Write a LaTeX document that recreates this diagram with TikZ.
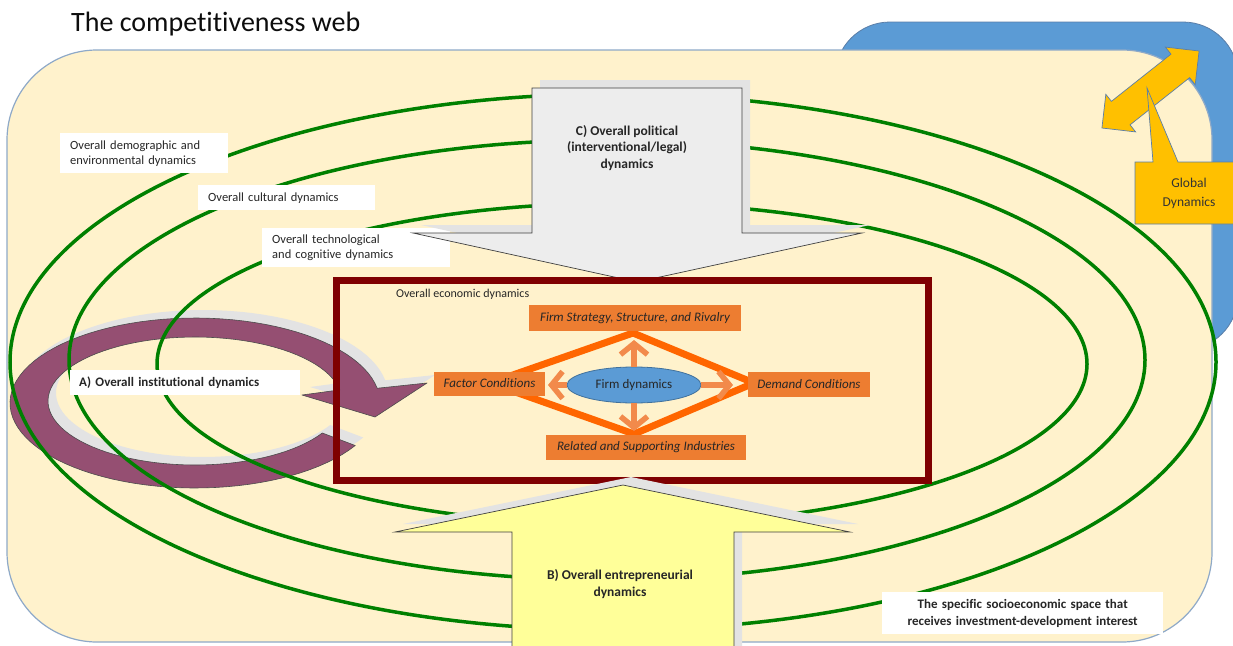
\documentclass[tikz,border=0pt]{standalone}
\usepackage{fontspec}
\setmainfont{Carlito}[Ligatures=NoCommon]
\usetikzlibrary{arrows.meta,shapes.geometric}
\definecolor{bgcream}{HTML}{FFF2CC}
\definecolor{framegray}{HTML}{8EA9C8}
\definecolor{globalblue}{HTML}{5B9BD5}
\definecolor{globalblueline}{HTML}{5A7EA8}
\definecolor{ringgreen}{HTML}{008000}
\definecolor{boxred}{HTML}{7F0000}
\definecolor{instpurple}{HTML}{954F72}
\definecolor{shadowgray}{HTML}{E3E3E3}
\definecolor{polgray}{HTML}{EDEDED}
\definecolor{entyellow}{HTML}{FFFF99}
\definecolor{goldfill}{HTML}{FFC000}
\definecolor{porterorange}{HTML}{ED7D31}
\definecolor{diamondorange}{HTML}{FF6600}
\definecolor{linkorange}{HTML}{F28A4B}
\definecolor{firmblue}{HTML}{5B9BD5}
\definecolor{firmblueline}{HTML}{41719C}
\definecolor{inkdark}{HTML}{262626}
\begin{document}
\begin{tikzpicture}[x=1pt,y=-1pt,
  labelbox/.style={fill=white, inner xsep=10pt, inner ysep=0pt, anchor=north west,
    align=left, text=inkdark, font=\fontsize{12.5}{15}\selectfont},
  boldlabel/.style={labelbox, font=\fontsize{13}{17}\selectfont\bfseries},
  ring/.style={draw=ringgreen, line width=3.5pt},
  porterbox/.style={fill=porterorange, inner sep=0pt, text=inkdark,
    font=\fontsize{13}{15}\selectfont\itshape},
  linkarrow/.style={draw=linkorange, line width=5.5pt,
    -{Straight Barb[length=11pt,width=27pt]}},
  bigarrow/.style={draw=black!75, line width=0.7pt},
  bigtext/.style={font=\fontsize{13.5}{16.5}\selectfont\bfseries, text=inkdark, align=center},
]
\useasboundingbox (0,0) rectangle (1233,645);
\clip (0,0) rectangle (1233,645);
\fill[white] (0,0) rectangle (1233,645);

% global environment behind the space
\draw[fill=globalblue, draw=globalblueline, line width=0.8pt, rounded corners=55pt]
  (835,22) rectangle (1238,350);
% the specific socioeconomic space
\draw[fill=bgcream, draw=framegray, line width=1.2pt, rounded corners=90pt]
  (7,50) rectangle (1212,642);

% A) institutional ring: shadow, then the ring itself
\begin{scope}[shift={(8,-8)}]
  \fill[shadowgray]
    plot[domain=30:350,samples=90,variable=\t] ({195+185*cos(\t)},{403+85*sin(\t)})
    -- (427,383) -- (375,417) -- (302,395)
    -- plot[domain=350:30,samples=90,variable=\t] ({195+147*cos(\t)},{401+64*sin(\t)})
    -- cycle;
\end{scope}
\draw[fill=instpurple, draw=black!70, line width=0.6pt, line join=round]
  plot[domain=30:350,samples=90,variable=\t] ({195+185*cos(\t)},{403+85*sin(\t)})
  -- (427,383) -- (375,417) -- (302,395)
  -- plot[domain=350:30,samples=90,variable=\t] ({195+147*cos(\t)},{401+64*sin(\t)})
  -- cycle;

% concentric dynamics
\draw[ring] (613,362) ellipse [x radius=603pt, y radius=268pt];
\draw[ring] (607,360) ellipse [x radius=538pt, y radius=220pt];
\draw[ring] (622,364) ellipse [x radius=465pt, y radius=161pt];

% layer labels
\node[labelbox, text width=148pt, minimum height=40pt] (demo) at (60,133)
  {Overall demographic and\\environmental dynamics};
\node[labelbox, text width=157pt, minimum height=25pt] (cult) at (198,185)
  {Overall cultural dynamics};
\node[labelbox, text width=168pt, minimum height=39pt] (tech) at (262,228)
  {Overall technological\\and cognitive dynamics};
\node[boldlabel, inner xsep=9pt, text width=212pt, minimum height=25pt] (inst) at (70,370)
  {A) Overall institutional dynamics};

% C) political arrow
\begin{scope}[shift={(8,-8)}]
  \fill[shadowgray] (532,88) -- (742,88) -- (742,233) -- (862,233) -- (637,282)
    -- (413,233) -- (532,233) -- cycle;
\end{scope}
\draw[bigarrow, fill=polgray] (532,88) -- (742,88) -- (742,233) -- (862,233) -- (637,282)
  -- (413,233) -- (532,233) -- cycle;
\node[bigtext] (pol) at (627,148) {C) Overall political\\(interventional/legal)\\dynamics};

% economic dynamics frame
\draw[draw=boxred, line width=7pt] (336.5,280.5) rectangle (928.5,480.5);
\node[anchor=west, inner sep=0pt, text=inkdark, font=\fontsize{12}{14}\selectfont]
  (econ) at (396,294) {Overall economic dynamics};

% Porter diamond
\coordinate (dtop) at (633,333);
\coordinate (dright) at (754,383);
\coordinate (dbottom) at (634,434);
\coordinate (dleft) at (490,383);
\draw[draw=diamondorange, line width=7pt, line join=miter]
  (dtop) -- (dright) -- (dbottom) -- (dleft) -- cycle;

\node[porterbox, minimum width=212pt, minimum height=26pt] (strat) at (635,318)
  {Firm Strategy, Structure, and Rivalry};
\node[porterbox, minimum width=111pt, minimum height=24pt] (factor) at (489.5,383.5)
  {Factor Conditions};
\node[porterbox, minimum width=122pt, minimum height=25pt] (demand) at (809,384.5)
  {Demand Conditions};
\node[porterbox, minimum width=200pt, minimum height=25pt] (related) at (646,447.5)
  {Related and Supporting Industries};

\node[ellipse, fill=firmblue, draw=firmblueline, line width=0.8pt, inner sep=0pt,
  minimum width=134pt, minimum height=36pt, text=inkdark,
  font=\fontsize{13}{15}\selectfont] (fd) at (634,385) {Firm dynamics};
\coordinate (tipup) at (634,340);
\coordinate (tipdown) at (634,431);
\coordinate (tipleft) at (548,385);
\coordinate (tipright) at (733,385);
\draw[linkarrow] (fd.north) -- (tipup);
\draw[linkarrow] (fd.south) -- (tipdown);
\draw[linkarrow] (fd.west) -- (tipleft);
\draw[linkarrow] (fd.east) -- (tipright);

% B) entrepreneurial arrow
\begin{scope}[shift={(8,-8)}]
  \fill[shadowgray] (512,660) -- (512,532) -- (395,532) -- (623,485) -- (850,532)
    -- (734,532) -- (734,660) -- cycle;
\end{scope}
\draw[bigarrow, fill=entyellow] (512,660) -- (512,532) -- (395,532) -- (623,485)
  -- (850,532) -- (734,532) -- (734,660) -- cycle;
\node[bigtext] (ent) at (620,584) {B) Overall entrepreneurial\\dynamics};

% space label
\node[boldlabel, align=center, inner xsep=0pt, text width=281pt, minimum height=42pt,
  font=\fontsize{13}{17}\selectfont\bfseries] (space) at (882,592)
  {The specific socioeconomic space that\\receives investment-development interest};

% title
\node[anchor=base west, inner sep=0pt, text=black!95, font=\fontsize{28}{32}\selectfont]
  (title) at (71,31) {The competitiveness web};

% global dynamics: two-way exchange arrow
\begin{scope}[shift={(1150.5,89.5)}, rotate=38.4]
  \draw[fill=goldfill, draw=globalblueline, line width=0.7pt, line join=miter]
    (62,0) -- (38,24) -- (38,15) -- (-38,15) -- (-38,24) -- (-62,0)
    -- (-38,-24) -- (-38,-15) -- (38,-15) -- (38,-24) -- cycle;
\end{scope}
% callout
\draw[fill=goldfill, draw=globalblueline, line width=0.7pt]
  (1135,162) -- (1153,162) -- (1147,88) -- (1178,162) -- (1240,162)
  -- (1240,224) -- (1135,224) -- cycle;
\node[align=center, text=black!80, font=\fontsize{13.5}{19}\selectfont]
  (global) at (1189,193) {Global\\Dynamics};
\end{tikzpicture}
\end{document}
